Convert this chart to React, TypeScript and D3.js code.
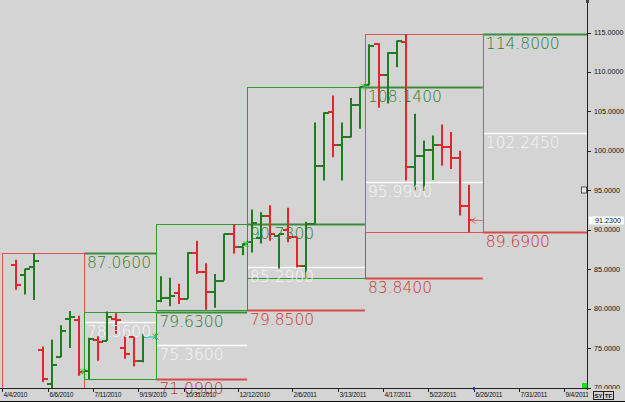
import React, { useEffect, useRef } from "react";
import * as d3 from "d3";

// weekly OHLC bars, slot 15 is empty
const barOpen = [85.55, 84.2, 85.25, 74.8, 70.4, 73.85, 78.7, 78.6, 72.1, 76.05, 75.9, 78.7, 75.0, 76.4, 73.4, null,
  81.0, 81.4, 82.0, 81.25, 87.1, 84.6, 82.1, 83.55, 89.5, 87.8,
  88.4, 89.0, 91.7, 89.2, 90.0, 89.05, 85.4, 90.75, 98.1, 104.9, 100.7, 101.7, 105.75,
  108.3, 113.5, 109.6, 112.4, 113.8, 98.0, 99.4, 100.05, 100.7, 100.45, 99.05, 93.0];
const barHigh = [86.2, 85.05, 87.06, 75.2, 76.05, 77.9, 79.7, 79.1, 76.3, 76.5, 79.63, 79.4, 76.6, 76.5, 76.8, null,
  84.1, 83.9, 83.15, 87.15, 88.6, 85.75, 84.4, 89.5, 90.73, 88.3,
  92.55, 92.2, 93.1, 89.5, 92.8, 89.1, 91.0, 103.6, 104.9, 107.0, 103.6, 106.7, 108.14,
  113.5, 113.65, 112.5, 114.0, 114.8, 104.7, 101.3, 101.95, 103.35, 102.4, 100.0, 95.7];
const barLow = [82.4, 81.8, 81.1, 70.7, 69.66, 73.85, 75.0, 71.5, 71.09, 73.4, 75.9, 76.8, 73.65, 72.65, 73.2, null,
  80.8, 80.3, 80.6, 81.25, 84.4, 79.85, 80.1, 83.55, 87.0, 86.75,
  87.1, 88.25, 88.6, 85.1, 88.4, 85.2, 83.84, 90.75, 96.25, 99.2, 96.25, 101.7, 102.8,
  108.3, 105.45, 106.0, 110.6, 96.25, 95.0, 94.9, 96.3, 98.15, 97.7, 91.8, 89.69];
const barClose = [83.0, 85.0, 86.0, 71.1, 72.8, 77.2, 78.9, 72.0, 76.2, 75.75, 79.0, 78.5, 74.3, 73.4, 76.45, null,
  81.4, 81.6, 81.25, 87.1, 84.6, 82.1, 83.55, 89.45, 87.8, 88.2,
  90.8, 91.7, 89.5, 89.4, 89.05, 85.35, 90.75, 98.1, 104.8, 100.7, 101.7, 105.75, 108.14,
  113.35, 109.6, 112.4, 113.9, 98.0, 99.4, 100.05, 100.7, 100.45, 99.05, 93.0, 91.23];

// quarterly ranges
const periodStart = [-1.5, 7.5, 15.5, 25.5, 38.5];
const periodEnd = [7.5, 15.5, 25.5, 38.5, 51.5];
const periodHigh = [87.06, 79.63, 90.73, 108.14, 114.8];
const periodLow = [69.66, 71.09, 79.85, 83.84, 89.69];
const periodUp = [false, true, true, true, false];
const lastSlot = 63;

const dateLabels = ["4/4/2010", "6/6/2010", "7/11/2010", "9/19/2010", "10/31/2010", "12/12/2010", "2/6/2011",
  "3/13/2011", "4/17/2011", "5/22/2011", "6/26/2011", "7/31/2011", "9/4/2011"];
const dateSlots = [-1.5, 3.5, 8.5, 13.5, 18.5, 24.5, 30.5, 35.5, 40.5, 45.5, 50.5, 55.5, 60.5];
const priceTicks = [70, 75, 80, 85, 90, 95, 100, 105, 110, 115];
const lastPrice = 91.23;

const W = 625;
const H = 402;
const GREEN = "#1f7d1f";
const RED = "#e3262c";

export default function App() {
  const ref = useRef<SVGSVGElement | null>(null);

  useEffect(() => {
    const svg = d3.select(ref.current);
    svg.selectAll("*").remove();

    const axisX = 587;
    const axisY = 388;
    const x = d3.scaleLinear().domain([-1.5, lastSlot]).range([2.4, axisX]);
    const y = d3.scaleLinear().domain([70, 115]).range([387.5, 32.5]);
    const fmt = d3.format(".4f");
    const py = (v: number) => Math.round(y(v)) + 0.5;
    const small = "Liberation Sans, Arial, sans-serif";

    svg.append("rect").attr("width", W).attr("height", H).attr("fill", "#d4d4d4");
    svg.append("defs").append("clipPath").attr("id", "plotClip")
      .append("rect").attr("width", axisX).attr("height", axisY);
    const plot = svg.append("g").attr("clip-path", "url(#plotClip)");

    // previous quarter levels carried into the next quarter
    periodHigh.forEach((hi, k) => {
      const lo = periodLow[k];
      const mid = (hi + lo) / 2;
      const x0 = x(periodEnd[k]);
      const x1 = k + 1 < periodEnd.length ? x(periodEnd[k + 1]) : axisX;
      const levels = [
        { v: hi, c: "#3b8b3b", t: "#2c7c2c", w: 2 },
        { v: mid, c: "#ffffff", t: "#f6f6f6", w: 1.5 },
        { v: lo, c: "#d64a4a", t: "#c83636", w: 2 },
      ];
      levels.forEach((l) => {
        plot.append("line").attr("x1", x0).attr("x2", x1)
          .attr("y1", py(l.v)).attr("y2", py(l.v))
          .attr("stroke", l.c).attr("stroke-width", l.w);
        if (y(l.v) < axisY) {
          svg.append("text").attr("x", x0 + 3).attr("y", y(l.v) + 15)
            .attr("font-family", "DejaVu Sans, sans-serif").attr("font-weight", 200)
            .attr("font-size", 15.5).attr("fill", l.t)
            .text(fmt(l.v));
        }
      });
    });

    // quarter boxes
    periodHigh.forEach((hi, k) => {
      const x0 = Math.round(x(periodStart[k])) + 0.5;
      const x1 = Math.round(x(periodEnd[k])) + 0.5;
      plot.append("rect").attr("x", x0).attr("y", py(hi))
        .attr("width", x1 - x0).attr("height", py(periodLow[k]) - py(hi))
        .attr("fill", "none").attr("stroke", periodUp[k] ? "#2a9a2a" : "#e05252").attr("stroke-width", 1);
    });

    // OHLC bars
    const idx = d3.range(barOpen.length).filter((i) => barOpen[i] !== null);
    const g = plot.append("g");
    idx.forEach((i) => {
      const o = barOpen[i] as number;
      const c = barClose[i] as number;
      const col = c >= o ? GREEN : RED;
      const cx = Math.round(x(i));
      g.append("line").attr("x1", cx).attr("x2", cx)
        .attr("y1", y(barHigh[i] as number)).attr("y2", y(barLow[i] as number))
        .attr("stroke", col).attr("stroke-width", 2);
      g.append("line").attr("x1", cx - 5).attr("x2", cx)
        .attr("y1", Math.round(y(o))).attr("y2", Math.round(y(o)))
        .attr("stroke", col).attr("stroke-width", 2);
      g.append("line").attr("x1", cx).attr("x2", cx + 5)
        .attr("y1", Math.round(y(c))).attr("y2", Math.round(y(c)))
        .attr("stroke", col).attr("stroke-width", 2);
    });

    // cyan carry of the quarter close
    plot.append("line").attr("x1", x(14) + 1).attr("x2", x(periodEnd[1]))
      .attr("y1", Math.round(y(barClose[14] as number))).attr("y2", Math.round(y(barClose[14] as number)))
      .attr("stroke", "#3fd0d0").attr("stroke-width", 1.5);

    // close markers at quarter ends
    [7, 14, 25, 38].forEach((i, k) => {
      const mx = x(periodEnd[k]) - 1;
      const my = y(barClose[i] as number);
      plot.append("path")
        .attr("d", `M${mx - 3},${my - 3}L${mx + 3},${my + 3}M${mx - 3},${my + 3}L${mx + 3},${my - 3}M${mx},${my - 3}V${my + 3}`)
        .attr("stroke", "#3cbf3c").attr("stroke-width", 1);
    });

    // last price arrow
    const ay = Math.round(y(lastPrice)) + 0.5;
    const ax = x(periodEnd[4]);
    svg.append("path")
      .attr("d", `M${ax - 12},${ay}H${ax}M${ax - 12},${ay}l5,-3M${ax - 12},${ay}l5,3`)
      .attr("stroke", "#e07070").attr("stroke-width", 1).attr("fill", "none");

    // right axis
    svg.append("line").attr("x1", axisX + 0.5).attr("x2", axisX + 0.5)
      .attr("y1", 0).attr("y2", axisY + 2).attr("stroke", "#222");
    priceTicks.forEach((v) => {
      svg.append("line").attr("x1", axisX).attr("x2", axisX + 4)
        .attr("y1", py(v)).attr("y2", py(v)).attr("stroke", "#222");
      svg.append("text").attr("x", axisX + 7).attr("y", y(v) + 2.5)
        .attr("font-family", small).attr("font-size", 7.2)
        .attr("fill", "#111").text(fmt(v));
    });
    svg.append("rect").attr("x", axisX + 2).attr("y", ay - 4).attr("width", 35).attr("height", 8)
      .attr("fill", "#ffffff");
    svg.append("text").attr("x", axisX + 8).attr("y", ay + 2.5)
      .attr("font-family", small).attr("font-size", 7.2)
      .attr("fill", "#111").text(fmt(lastPrice));
    svg.append("rect").attr("x", axisX - 5.5).attr("y", py(95) - 3.5).attr("width", 5).attr("height", 6)
      .attr("fill", "#e8e8e8").attr("stroke", "#333").attr("stroke-width", 0.8);
    svg.append("rect").attr("x", axisX - 1).attr("y", 0).attr("width", 3).attr("height", 3).attr("fill", "#444");
    svg.append("rect").attr("x", axisX - 5).attr("y", axisY - 5).attr("width", 5).attr("height", 5)
      .attr("fill", "#16e016");

    // bottom axis
    svg.append("line").attr("x1", 0).attr("x2", axisX).attr("y1", axisY + 0.5).attr("y2", axisY + 0.5)
      .attr("stroke", "#222");
    const xt = svg.append("g");
    dateSlots.forEach((s, k) => {
      const tx = Math.round(x(s)) + 0.5;
      xt.append("line").attr("x1", tx).attr("x2", tx).attr("y1", axisY).attr("y2", axisY + 4)
        .attr("stroke", "#222");
      xt.append("text").attr("x", tx + 1).attr("y", 397)
        .attr("font-family", small).attr("font-size", 6.6).attr("letter-spacing", -0.25)
        .attr("fill", "#111").text(dateLabels[k]);
    });
    svg.append("rect").attr("x", axisX + 1).attr("y", axisY + 1).attr("width", W - axisX).attr("height", 12)
      .attr("fill", "#d4d4d4");
    svg.append("rect").attr("x", Math.round(x(50.5)) - 1).attr("y", axisY - 1).attr("width", 2).attr("height", 3)
      .attr("fill", "#2233cc");
    ["SY", "TF"].forEach((t, k) => {
      svg.append("rect").attr("x", 593.5 + k * 10).attr("y", 391.5).attr("width", 10).attr("height", 8)
        .attr("fill", "#d4d4d4").attr("stroke", "#222").attr("stroke-width", 1);
      svg.append("text").attr("x", 598.5 + k * 10).attr("y", 398).attr("text-anchor", "middle")
        .attr("font-family", small).attr("font-size", 6)
        .attr("font-weight", "bold").attr("fill", "#111").text(t);
    });
    svg.append("line").attr("x1", 0).attr("x2", W).attr("y1", 401.5).attr("y2", 401.5).attr("stroke", "#111");
  }, []);

  return (
    <svg
      ref={ref}
      width={W}
      height={H}
      style={{ position: "absolute", left: 0, top: 0, display: "block" }}
    />
  );
}
